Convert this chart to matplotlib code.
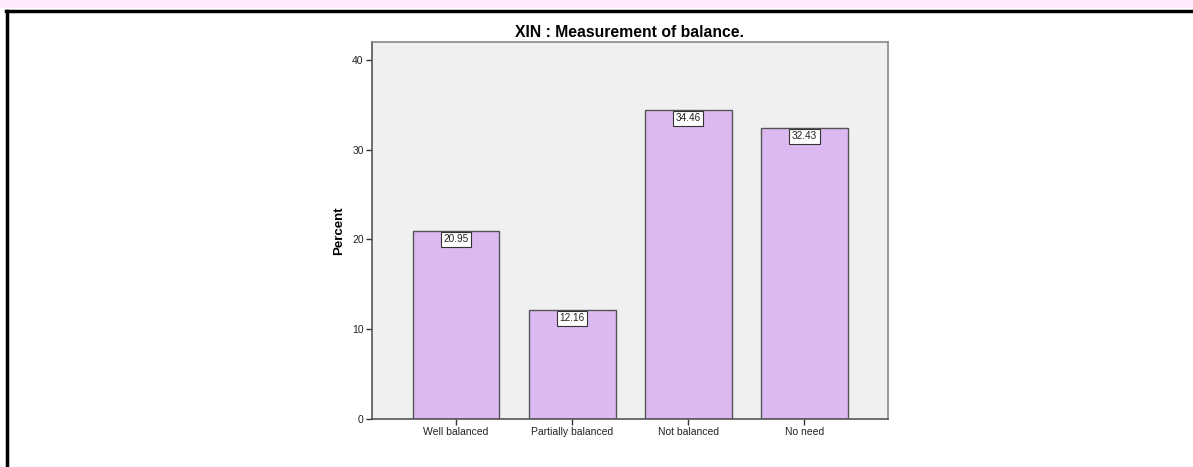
import matplotlib
matplotlib.use('Agg')
import matplotlib.pyplot as plt
from matplotlib.lines import Line2D
from matplotlib.patches import Rectangle

plt.rcParams['font.family'] = ['Liberation Sans', 'DejaVu Sans']

categories = ['Well balanced', 'Partially balanced', 'Not balanced', 'No need']
percent = [20.95, 12.16, 34.46, 32.43]
yticks = [0, 10, 20, 30, 40]
title = 'XIN : Measurement of balance.'

W, H = 1193, 467
fig = plt.figure(figsize=(W / 100, H / 100), dpi=100)
fig.patch.set_facecolor('white')

# 顶部浅粉色条 + 黑色边框
fig.patches.append(Rectangle((0, 1 - 8 / H), 1, 8 / H, transform=fig.transFigure,
                             facecolor='#FDE9FD', edgecolor='none', zorder=0))
fig.lines.append(Line2D([6.5 / W, 1], [1 - 11 / H, 1 - 11 / H], transform=fig.transFigure,
                        color='black', linewidth=2.5))
fig.lines.append(Line2D([7 / W, 7 / W], [0, 1 - 11 / H], transform=fig.transFigure,
                        color='black', linewidth=2.5))

left, right, top, bottom = 372, 888, 42, 419
ax = fig.add_axes([left / W, 1 - bottom / H, (right - left) / W, (bottom - top) / H])
ax.set_facecolor('#F0F0F0')

x = list(range(len(categories)))
ax.bar(x, percent, width=0.746, color='#DDB9F1', edgecolor='#555555', linewidth=1.0, zorder=2)

for xi, v in zip(x, percent):
    ax.annotate(f'{v:.2f}', (xi, v), xytext=(0, -6), textcoords='offset points',
                ha='center', va='center', fontsize=7.2, color='#222222', zorder=3,
                bbox=dict(boxstyle='square,pad=0.25', facecolor='white', edgecolor='#333333', linewidth=0.8))

ax.set_xlim(-0.725, 3.72)
ax.set_ylim(0, 42)
ax.set_xticks(x)
ax.set_xticklabels(categories, fontsize=7.5, color='#222222')
ax.set_yticks(yticks)
ax.set_yticklabels([str(t) for t in yticks], fontsize=7.5, color='#222222')
ax.tick_params(axis='both', length=4, width=1, color='#333333', pad=2)
for s in ax.spines.values():
    s.set_color('#888888')
    s.set_linewidth(1.2)
ax.spines['left'].set_color('#555555')
ax.spines['bottom'].set_color('#555555')

ax.set_ylabel('Percent', fontsize=9.5, fontweight='bold', labelpad=5)
fig.text((left + right) / 2 / W, 1 - 32.5 / H, title, ha='center', va='center',
         fontsize=11.3, fontweight='bold')

fig.savefig('out.png', dpi=100)
